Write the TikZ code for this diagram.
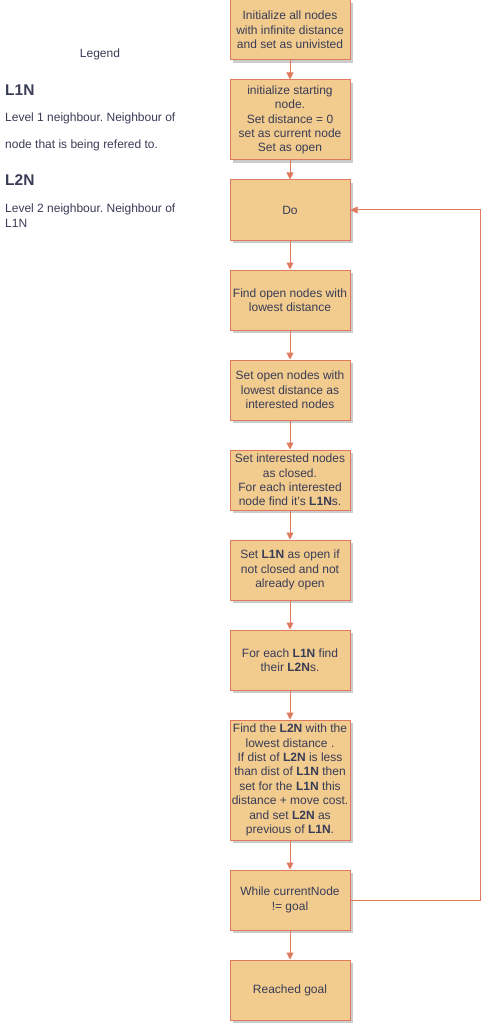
\documentclass[tikz,border=0pt]{standalone}
\usepackage{fontspec}
\setmainfont{Liberation Sans}
\usetikzlibrary{arrows.meta,shadows}
\frenchspacing

\definecolor{boxfill}{HTML}{F2CC8F}
\definecolor{boxline}{HTML}{E07A5F}
\definecolor{boxtext}{HTML}{393C56}

\begin{document}
\begin{tikzpicture}[x=1pt, y=-1pt,
    stepbox/.style={draw=boxline, fill=boxfill, line width=1pt, text=boxtext,
        minimum width=120pt, inner sep=1pt, align=center,
        font=\fontsize{12}{14.4}\selectfont,
        drop shadow={shadow xshift=3pt, shadow yshift=-3pt, opacity=0.2, fill=black}},
    flow/.style={-{Triangle[length=7pt,width=7pt]}, draw=boxline, line width=1pt},
    legendtext/.style={anchor=base west, inner sep=0pt, text=boxtext,
        font=\fontsize{12}{14.4}\selectfont}]
    \useasboundingbox (0,0) rectangle (500,1032);

    % Define coordinates
    \coordinate (c1) at (290,30);
    \coordinate (c2) at (290,120);
    \coordinate (c3) at (290,210);
    \coordinate (c4) at (290,300);
    \coordinate (c5) at (290,390);
    \coordinate (c6) at (290,480);
    \coordinate (c7) at (290,570);
    \coordinate (c8) at (290,660);
    \coordinate (c9) at (290,780);
    \coordinate (c10) at (290,900);
    \coordinate (c11) at (290,990);
    \coordinate (loopcorner) at (480,210);

    % Legend
    \node[legendtext, anchor=base] (legend) at (100,58) {Legend};
    \node[legendtext, font=\bfseries\fontsize{15.5}{18}\selectfont] (l1n) at (5,96) {L1N};
    \node[legendtext] (l1na) at (5,122) {Level 1 neighbour. Neighbour of};
    \node[legendtext] (l1nb) at (5,149) {node that is being refered to.};
    \node[legendtext, font=\bfseries\fontsize{15.5}{18}\selectfont] (l2n) at (5,186) {L2N};
    \node[legendtext] (l2na) at (5,213) {Level 2 neighbour. Neighbour of};
    \node[legendtext] (l2nb) at (5,227) {L1N};

    % Boxes
    \node[stepbox, minimum height=60pt] (init) at (c1) {Initialize all nodes\\with infinite distance\\and set as univisted};
    \node[stepbox, minimum height=80pt] (start) at (c2) {initialize starting\\node.\\Set distance = 0\\set as current node\\Set as open};
    \node[stepbox, minimum height=60pt] (do) at (c3) {Do};
    \node[stepbox, minimum height=60pt] (findopen) at (c4) {Find open nodes with\\lowest distance};
    \node[stepbox, minimum height=60pt] (interested) at (c5) {Set open nodes with\\lowest distance as\\interested nodes};
    \node[stepbox, minimum height=60pt] (closed) at (c6) {Set interested nodes\\as closed.\\For each interested\\node find it's \textbf{L1N}s.};
    \node[stepbox, minimum height=60pt] (setopen) at (c7) {Set \textbf{L1N} as open if\\not closed and not\\already open};
    \node[stepbox, minimum height=60pt] (findl2n) at (c8) {For each \textbf{L1N} find\\their \textbf{L2N}s.};
    \node[stepbox, minimum height=120pt] (update) at (c9) {Find the \textbf{L2N} with the\\lowest distance .\\If dist of \textbf{L2N} is less\\than dist of \textbf{L1N} then\\set for the \textbf{L1N} this\\distance + move cost.\\and set \textbf{L2N} as\\previous of \textbf{L1N}.};
    \node[stepbox, minimum height=60pt] (while) at (c10) {While currentNode\\!= goal};
    \node[stepbox, minimum height=60pt] (goal) at (c11) {Reached goal};

    % Arrows
    \draw[flow] (init) -- (start);
    \draw[flow] (start) -- (do);
    \draw[flow] (do) -- (findopen);
    \draw[flow] (findopen) -- (interested);
    \draw[flow] (interested) -- (closed);
    \draw[flow] (closed) -- (setopen);
    \draw[flow] (setopen) -- (findl2n);
    \draw[flow] (findl2n) -- (update);
    \draw[flow] (update) -- (while);
    \draw[flow] (while) -- (goal);
    \draw[flow] (while.east) -| (loopcorner) -- (do.east);

\end{tikzpicture}
\end{document}
